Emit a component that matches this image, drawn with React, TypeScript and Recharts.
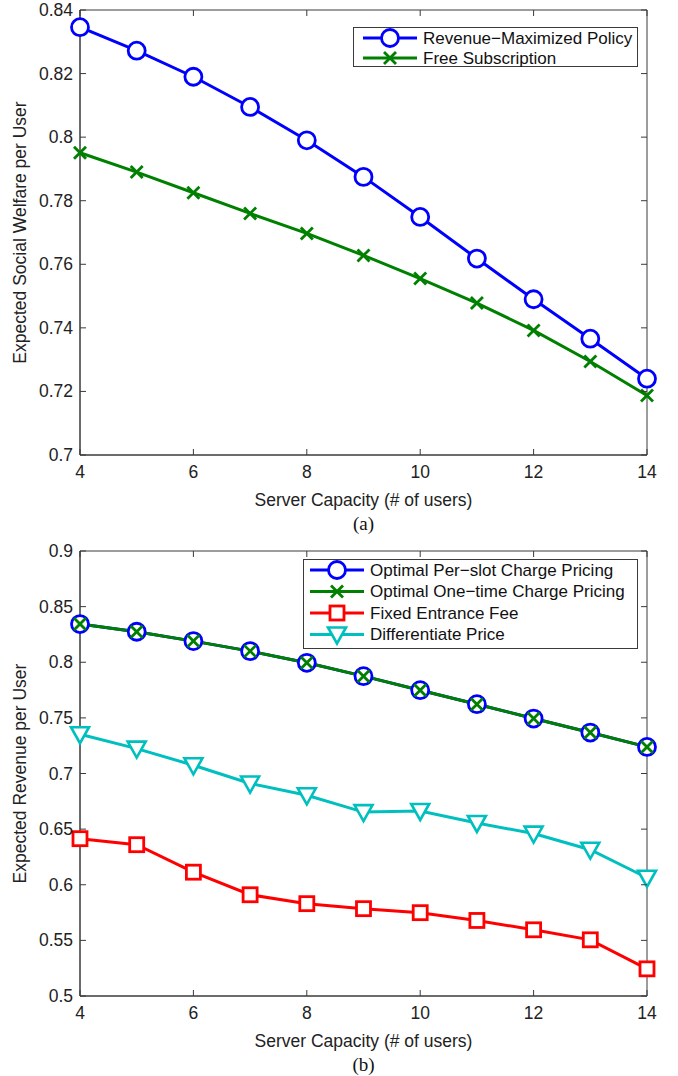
import React from "react";
import { LineChart, Line, XAxis, YAxis, Legend, ReferenceArea } from "recharts";

const capacity = [4, 5, 6, 7, 8, 9, 10, 11, 12, 13, 14];

// (a) expected social welfare per user
const welfareRevenueMax = [0.8346, 0.8272, 0.819, 0.8095, 0.799, 0.7875, 0.7749, 0.7618, 0.749, 0.7366, 0.724];
const welfareFreeSub = [0.7951, 0.789, 0.7825, 0.776, 0.7697, 0.7628, 0.7555, 0.7478, 0.7392, 0.7294, 0.7187];

// (b) expected revenue per user
const revenuePerSlot = [0.8343, 0.8274, 0.819, 0.81, 0.7995, 0.7875, 0.7749, 0.7623, 0.7494, 0.7368, 0.7239];
const revenueOneTime = [0.8343, 0.8274, 0.819, 0.81, 0.7995, 0.7875, 0.7749, 0.7623, 0.7494, 0.7368, 0.7239];
const revenueFixedFee = [0.6414, 0.636, 0.6113, 0.591, 0.583, 0.5785, 0.5749, 0.5679, 0.5595, 0.5505, 0.5244];
const revenueDifferentiate = [0.7353, 0.7224, 0.7074, 0.691, 0.6804, 0.6653, 0.6663, 0.6555, 0.646, 0.6315, 0.6063];

const xTicks = [4, 6, 8, 10, 12, 14];
const welfareTicks = [0.7, 0.72, 0.74, 0.76, 0.78, 0.8, 0.82, 0.84];
const revenueTicks = [0.5, 0.55, 0.6, 0.65, 0.7, 0.75, 0.8, 0.85, 0.9];

const welfareData = capacity.map((c, i) => ({
  c,
  revMax: welfareRevenueMax[i],
  free: welfareFreeSub[i],
}));

const revenueData = capacity.map((c, i) => ({
  c,
  perSlot: revenuePerSlot[i],
  oneTime: revenueOneTime[i],
  fixed: revenueFixedFee[i],
  diff: revenueDifferentiate[i],
}));

const W = 678;
const H = 540;
const TOP = 10;
const LEFT = 80;
const RIGHT = 647;
const BOTTOM = 455;
const AXIS = "#3a3a3a";
const FONT = "'Liberation Sans', Arial, sans-serif";
const BLUE = "#0000ff";
const GREEN = "#008000";
const RED = "#ff0000";
const CYAN = "#00bfbf";

type Marker = "circle" | "cross" | "square" | "tri";

function drawMarker(kind: Marker, cx: number, cy: number, color: string, key?: string) {
  if (kind === "circle")
    return <circle key={key} cx={cx} cy={cy} r={8.5} fill="#fff" stroke={color} strokeWidth={2.8} />;
  if (kind === "cross")
    return (
      <g key={key} stroke={color} strokeWidth={2.8}>
        <line x1={cx - 6} y1={cy - 6} x2={cx + 6} y2={cy + 6} />
        <line x1={cx - 6} y1={cy + 6} x2={cx + 6} y2={cy - 6} />
      </g>
    );
  if (kind === "square")
    return <rect key={key} x={cx - 7} y={cy - 7} width={14} height={14} fill="#fff" stroke={color} strokeWidth={2.8} />;
  return (
    <polygon
      key={key}
      points={`${cx - 9},${cy - 7} ${cx + 9},${cy - 7} ${cx},${cy + 9}`}
      fill="#fff"
      stroke={color}
      strokeWidth={2.6}
      strokeLinejoin="miter"
    />
  );
}

const dot = (kind: Marker, color: string) => (p: any) =>
  drawMarker(kind, p.cx, p.cy, color, `${kind}-${p.index}`);

function XTick(props: any) {
  const { x, payload } = props;
  return (
    <g>
      <line x1={x} x2={x} y1={BOTTOM} y2={BOTTOM - 6} stroke={AXIS} />
      <line x1={x} x2={x} y1={TOP} y2={TOP + 6} stroke={AXIS} />
      <text x={x} y={BOTTOM + 17} textAnchor="middle" dominantBaseline="central" fontSize={17.5} fill="#222" fontFamily={FONT}>
        {payload.value}
      </text>
    </g>
  );
}

function YTick(props: any) {
  const { y, payload } = props;
  const v = Math.round(payload.value * 100) / 100;
  return (
    <g>
      <line x1={LEFT} x2={LEFT + 6} y1={y} y2={y} stroke={AXIS} />
      <line x1={RIGHT} x2={RIGHT - 6} y1={y} y2={y} stroke={AXIS} />
      <text x={LEFT - 7} y={y} textAnchor="end" dominantBaseline="central" fontSize={17.5} fill="#222" fontFamily={FONT}>
        {String(v)}
      </text>
    </g>
  );
}

function XTitle({ caption }: { caption: string }) {
  const cx = (LEFT + RIGHT) / 2;
  return (
    <g>
      <text x={cx} y={BOTTOM + 45} textAnchor="middle" dominantBaseline="central" fontSize={17.5} fill="#222" fontFamily={FONT}>
        Server Capacity (# of users)
      </text>
      <text x={cx} y={BOTTOM + 68} textAnchor="middle" dominantBaseline="central" fontSize={19} fill="#111" fontFamily="'Liberation Serif', 'Times New Roman', serif">
        {caption}
      </text>
    </g>
  );
}

function YTitle({ text }: { text: string }) {
  const cy = (TOP + BOTTOM) / 2;
  return (
    <text x={20} y={cy} transform={`rotate(-90 20 ${cy})`} textAnchor="middle" dominantBaseline="central" fontSize={17.5} fill="#222" fontFamily={FONT}>
      {text}
    </text>
  );
}

function LegendBox(props: any) {
  const { payload, markers, width, height, lineX, rowGap } = props;
  const order = Object.keys(markers);
  const rows = [...(payload || [])].sort(
    (a: any, b: any) => order.indexOf(a.dataKey) - order.indexOf(b.dataKey)
  );
  return (
    <svg width={width} height={height} style={{ display: "block" }}>
      <rect x={0.5} y={0.5} width={width - 1} height={height - 1} fill="#fff" stroke={AXIS} strokeWidth={1} />
      {rows.map((e: any, i: number) => {
        const y = 11 + i * rowGap;
        return (
          <g key={e.dataKey}>
            <line x1={lineX - 27} x2={lineX + 27} y1={y} y2={y} stroke={e.color} strokeWidth={3} />
            {drawMarker(markers[e.dataKey], lineX, y, e.color)}
            <text x={lineX + 33} y={y} dominantBaseline="central" fontSize={17} fill="#111" fontFamily={FONT}>
              {e.value}
            </text>
          </g>
        );
      })}
    </svg>
  );
}

export default function App() {
  return (
    <div style={{ position: "absolute", left: 0, top: 0, width: W, height: 1076, background: "#fff" }}>
      <div style={{ position: "absolute", left: 0, top: 0 }}>
        <LineChart width={W} height={H} data={welfareData} margin={{ top: TOP, right: W - RIGHT, bottom: 0, left: 0 }}>
          <XAxis
            dataKey="c"
            type="number"
            domain={[4, 14]}
            ticks={xTicks}
            interval={0}
            height={H - BOTTOM}
            axisLine={{ stroke: AXIS }}
            tickLine={false}
            tick={<XTick />}
            label={<XTitle caption="(a)" />}
          />
          <YAxis
            type="number"
            domain={[0.7, 0.84]}
            ticks={welfareTicks}
            interval={0}
            width={LEFT}
            axisLine={{ stroke: AXIS }}
            tickLine={false}
            tick={<YTick />}
            label={<YTitle text="Expected Social Welfare per User" />}
          />
          <ReferenceArea x1={4} x2={14} y1={0.7} y2={0.84} fill="none" stroke={AXIS} strokeWidth={1} />
          <Line type="linear" dataKey="revMax" name="Revenue−Maximized Policy" stroke={BLUE} strokeWidth={3} dot={dot("circle", BLUE)} activeDot={false} isAnimationActive={false} />
          <Line type="linear" dataKey="free" name="Free Subscription" stroke={GREEN} strokeWidth={3} dot={dot("cross", GREEN)} activeDot={false} isAnimationActive={false} />
          <Legend
            layout="vertical"
            align="center"
            verticalAlign="middle"
            wrapperStyle={{ left: 353, top: 27, width: 285, height: 40 }}
            content={<LegendBox markers={{ revMax: "circle", free: "cross" }} width={285} height={40} lineX={37} rowGap={20} />}
          />
        </LineChart>
      </div>
      <div style={{ position: "absolute", left: 0, top: 541 }}>
        <LineChart width={W} height={H} data={revenueData} margin={{ top: TOP, right: W - RIGHT, bottom: 0, left: 0 }}>
          <XAxis
            dataKey="c"
            type="number"
            domain={[4, 14]}
            ticks={xTicks}
            interval={0}
            height={H - BOTTOM}
            axisLine={{ stroke: AXIS }}
            tickLine={false}
            tick={<XTick />}
            label={<XTitle caption="(b)" />}
          />
          <YAxis
            type="number"
            domain={[0.5, 0.9]}
            ticks={revenueTicks}
            interval={0}
            width={LEFT}
            axisLine={{ stroke: AXIS }}
            tickLine={false}
            tick={<YTick />}
            label={<YTitle text="Expected Revenue per User" />}
          />
          <ReferenceArea x1={4} x2={14} y1={0.5} y2={0.9} fill="none" stroke={AXIS} strokeWidth={1} />
          <Line type="linear" dataKey="perSlot" name="Optimal Per−slot Charge Pricing" stroke={BLUE} strokeWidth={3} dot={dot("circle", BLUE)} activeDot={false} isAnimationActive={false} />
          <Line type="linear" dataKey="oneTime" name="Optimal One−time Charge Pricing" stroke={GREEN} strokeWidth={3} dot={dot("cross", GREEN)} activeDot={false} isAnimationActive={false} />
          <Line type="linear" dataKey="fixed" name="Fixed Entrance Fee" stroke={RED} strokeWidth={3} dot={dot("square", RED)} activeDot={false} isAnimationActive={false} />
          <Line type="linear" dataKey="diff" name="Differentiate Price" stroke={CYAN} strokeWidth={3} dot={dot("tri", CYAN)} activeDot={false} isAnimationActive={false} />
          <Legend
            layout="vertical"
            align="center"
            verticalAlign="middle"
            wrapperStyle={{ left: 303, top: 18, width: 335, height: 90 }}
            content={<LegendBox markers={{ perSlot: "circle", oneTime: "cross", fixed: "square", diff: "tri" }} width={335} height={90} lineX={34} rowGap={21.5} />}
          />
        </LineChart>
      </div>
    </div>
  );
}
